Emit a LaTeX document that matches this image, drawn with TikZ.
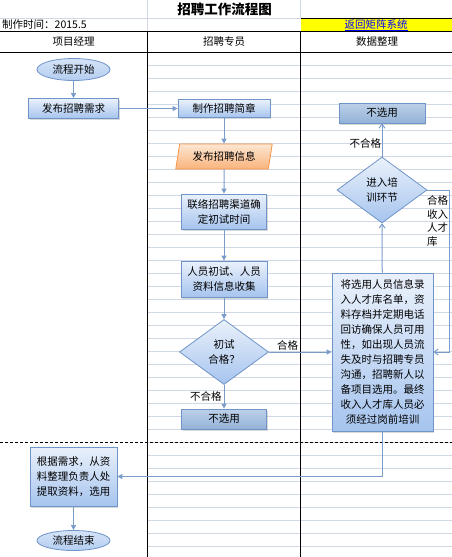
\documentclass[tikz,border=0pt]{standalone}
\usepackage{fontspec}
\setmainfont{Noto Sans CJK SC}
\usetikzlibrary{shapes.geometric, arrows.meta, positioning, calc, shadows}
\definecolor{FlowLine}{HTML}{7A9CCB}
\definecolor{BoxEdge}{HTML}{6E94C8}
\definecolor{BoxTop}{HTML}{EAF1FB}
\definecolor{BoxBottom}{HTML}{A6C4EE}
\definecolor{RejectTop}{HTML}{BDD0E8}
\definecolor{RejectBottom}{HTML}{93B2D8}
\definecolor{PostTop}{HTML}{FDE6D3}
\definecolor{PostBottom}{HTML}{F9B47C}
\definecolor{PostEdge}{HTML}{F79646}
\definecolor{GridGray}{HTML}{D0D7E5}
\definecolor{LinkYellow}{HTML}{FFFF00}

\begin{document}
\begin{tikzpicture}[x=1pt, y=-1pt, font=\fontsize{10.5}{15}\selectfont,
    gridln/.style={GridGray, line width=0.8pt},
    frameln/.style={black, line width=0.9pt},
    procbox/.style={rectangle, draw=BoxEdge, line width=0.8pt, top color=BoxTop, bottom color=BoxBottom,
        inner sep=0pt, align=center, drop shadow={shadow xshift=1pt, shadow yshift=-1.5pt, opacity=0.3}},
    rejectbox/.style={procbox, top color=RejectTop, bottom color=RejectBottom},
    startend/.style={ellipse, draw=BoxEdge, line width=0.8pt, top color=BoxTop!70!BoxBottom, bottom color=BoxBottom!85!white,
        inner sep=0pt, minimum width=73pt, minimum height=22pt},
    postbox/.style={trapezium, trapezium left angle=74, trapezium right angle=106, trapezium stretches=true,
        draw=PostEdge, line width=0.8pt, top color=PostTop, bottom color=PostBottom, inner sep=0pt,
        minimum width=97pt, minimum height=25pt},
    decide/.style={diamond, draw=BoxEdge, line width=0.8pt, top color=BoxTop, bottom color=BoxBottom,
        inner sep=0pt, align=center},
    flow/.style={FlowLine, line width=1pt, -{Triangle[width=5pt, length=5pt]}},
    flowopen/.style={FlowLine, line width=1pt, -{Straight Barb[width=6pt, length=4pt]}},
    lbl/.style={inner sep=1pt, text=black}]
    \useasboundingbox (0,0) rectangle (452,557);

    % Sheet grid
    \foreach \y in {65,78,...,546}
        \draw[gridln] (147,\y) -- (452,\y);
    \draw[gridln] (0,18) -- (301,18);
    \draw[gridln] (147,0) -- (147,31);
    \draw[gridln] (300.5,0) -- (300.5,18);
    \fill[LinkYellow] (301,18) rectangle (452,31);
    \draw[frameln] (301,18) -- (452,18);
    \draw[frameln] (0,31) -- (452,31);
    \draw[frameln] (0,52) -- (452,52);
    \draw[frameln] (147,31) -- (147,557);
    \draw[frameln] (300.5,31) -- (300.5,557);
    \draw[black, line width=0.9pt, dash pattern=on 3pt off 2pt] (0,442) -- (452,442);

    % Title rows
    \node (title) at (224.5,9) {\fontsize{13.5}{15}\selectfont\bfseries 招聘工作流程图};
    \node[anchor=west, inner sep=0pt] (date) at (2,25) {制作时间：2015.5};
    \node[text=blue] (link) at (376,25) {\underline{返回矩阵系统}};

    % Lane headers
    \node (laneA) at (73.5,42) {项目经理};
    \node (laneB) at (224,42) {招聘专员};
    \node (laneC) at (377,42) {数据整理};

    % Project manager lane
    \node[startend] (start) at (73.5,69.5) {流程开始};
    \node[procbox, minimum width=90pt, minimum height=20pt] (req) at (73.5,108.5) {发布招聘需求};
    \node[procbox, minimum width=87pt, minimum height=59pt] (pick) at (73.5,476.5) {根据需求，从资\\料整理负责人处\\提取资料，选用};
    \node[startend, minimum height=20pt] (finish) at (73.5,540.5) {流程结束};

    % Recruiter lane
    \node[procbox, minimum width=92pt, minimum height=18pt] (brief) at (224,108.5) {制作招聘简章};
    \node[postbox] (post) at (224,156.5) {发布招聘信息};
    \node[procbox, minimum width=85pt, minimum height=35pt] (contact) at (224,211.5) {联络招聘渠道确\\定初试时间};
    \node[procbox, minimum width=86pt, minimum height=36pt] (collect) at (224,279) {人员初试、人员\\资料信息收集};
    \node[decide, minimum width=89pt, minimum height=65pt] (check) at (224,352) {初试\\合格？};
    \node[rejectbox, minimum width=85pt, minimum height=20pt] (rejA) at (224,419) {不选用};

    % Data lane
    \node[rejectbox, minimum width=86pt, minimum height=20pt] (rejB) at (382,113) {不选用};
    \node[decide, minimum width=90pt, minimum height=66pt] (train) at (382,190) {进入培\\训环节};
    \node[procbox, minimum width=101pt, minimum height=158pt] (store) at (382.5,352)
        {将选用人员信息录\\入人才库名单，资\\料存档并定期电话\\回访确保人员可用\\性，如出现人员流\\失及时与招聘专员\\沟通，招聘新人以\\备项目选用。最终\\收入人才库人员必\\须经过岗前培训};
    \coordinate (turnR) at (449,190);
    \node[anchor=west, align=left, font=\fontsize{10.5}{13.5}\selectfont, inner sep=0pt] (passlbl) at (427,221) {合格\\收入\\人才\\库};

    % Connectors
    \draw[flow] (start) -- (req);
    \draw[flow] (req) -- (brief);
    \draw[flow] (brief) -- (post);
    \draw[flow] (post) -- (contact);
    \draw[flow] (contact) -- (collect);
    \draw[flow] (collect) -- (check);
    \draw[flow] (check) -- node[lbl, left, inner sep=2pt] {不合格} (rejA);
    \draw[flow] (check) -- node[lbl, above, pos=0.3] {合格} (store);
    \draw[flowopen] (store) -- (train);
    \draw[flowopen] (train) -- node[lbl, left, pos=0.4, inner sep=0.5pt] {不合格} (rejB);
    \draw[flowopen] (train.east) -- (turnR) |- (store.east);
    \draw[flow] (store.south) |- (pick.east);
    \draw[flow] (pick) -- (finish);
\end{tikzpicture}
\end{document}
